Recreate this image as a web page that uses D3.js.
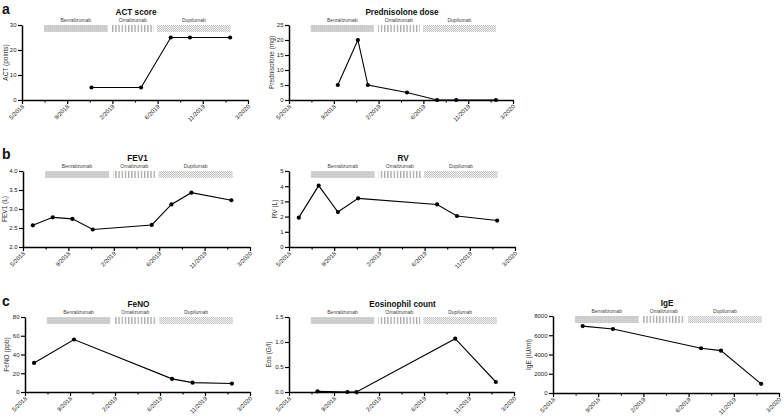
<!DOCTYPE html>
<html><head><meta charset="utf-8">
<script src="https://cdn.jsdelivr.net/npm/d3@7"></script>
<style>body{margin:0;background:#fff} text{font-family:"Liberation Sans",Arial,sans-serif}</style>
</head><body>
<svg id="chart" width="784" height="418"></svg>
<script>
// ---- data ----
const xTickDates = ["2018-05-01","2018-09-12","2019-01-24","2019-06-07","2019-10-19","2020-03-01"];
const xTickLabels = ["5/2018","9/2018","2/2019","6/2019","11/2019","3/2020"];
const xMinorDates = ["2018-07-07","2018-11-18","2019-04-01","2019-08-13","2019-12-25"];

const treatments = ["Benralizumab","Omalizumab","Dupilumab"];
const treatmentStart = ["2018-07-05","2019-01-22","2019-06-05"];
const treatmentEnd = ["2019-01-10","2019-05-27","2020-01-10"];

const actDates = ["2018-11-23","2019-04-19","2019-07-16","2019-09-11","2020-01-08"];
const actValues = [5,5,25,25,25];
const actTicks = [0,10,20,30];

const predDates = ["2018-09-24","2018-11-23","2018-12-23","2019-04-19","2019-07-18","2019-09-13","2020-01-10"];
const predValues = [5,20,5,2.5,0,0,0];
const predTicks = [0,5,10,15,20,25];

const fev1Dates = ["2018-05-30","2018-07-28","2018-09-24","2018-11-23","2019-05-16","2019-07-13","2019-09-10","2020-01-06"];
const fev1Values = [2.57,2.78,2.74,2.46,2.58,3.12,3.43,3.23];
const fev1Ticks = [2.0,2.5,3.0,3.5,4.0];

const rvDates = ["2018-05-30","2018-07-28","2018-09-23","2018-11-22","2019-07-14","2019-09-11","2020-01-08"];
const rvValues = [1.93,4.04,2.30,3.20,2.80,2.04,1.74];
const rvTicks = [0,1,2,3,4,5];

const fenoDates = ["2018-05-28","2018-09-24","2019-07-13","2019-09-12","2020-01-07"];
const fenoValues = [31,56,14,10,9];
const fenoTicks = [0,20,40,60,80];

const eosDates = ["2018-07-25","2018-10-22","2018-11-18","2019-09-08","2020-01-07"];
const eosValues = [0.013,0,0,1.067,0.2];
const eosTicks = [0.0,0.5,1.0,1.5];

const igeDates = ["2018-07-28","2018-10-26","2019-07-14","2019-09-11","2020-01-08"];
const igeValues = [6950,6650,4650,4400,950];
const igeTicks = [0,2000,4000,6000,8000];

// ---- drawing ----
const parse = d3.timeParse("%Y-%m-%d");
const svg = d3.select("#chart");
const defs = svg.append("defs");

// patterns
const pB = defs.append("pattern").attr("id","pBenra").attr("patternUnits","userSpaceOnUse").attr("width",2).attr("height",2);
pB.append("rect").attr("width",2).attr("height",2).attr("fill","#d2d2d2");
pB.append("rect").attr("width",1).attr("height",1).attr("fill","#c2c2c2");
const pO = defs.append("pattern").attr("id","pOmali").attr("patternUnits","userSpaceOnUse").attr("width",3.2).attr("height",4);
pO.append("rect").attr("width",3.2).attr("height",4).attr("fill","#fff");
pO.append("rect").attr("width",1.3).attr("height",4).attr("fill","#a8a8a8");
const pD = defs.append("pattern").attr("id","pDupi").attr("patternUnits","userSpaceOnUse").attr("width",2).attr("height",2);
pD.append("rect").attr("width",2).attr("height",2).attr("fill","#f4f4f4");
pD.append("rect").attr("width",1).attr("height",1).attr("fill","#c4c4c4");
pD.append("rect").attr("x",1).attr("y",1).attr("width",1).attr("height",1).attr("fill","#c4c4c4");
const fills = ["url(#pBenra)","url(#pOmali)","url(#pDupi)"];

const panels = [
  {title:"ACT score", ylab:"ACT (points)", dates:actDates, values:actValues, ticks:actTicks, fmt:d3.format("d"),
   x0:22, x1:248, yTop:25, yBot:100, ylx:6},
  {title:"Prednisolone dose", ylab:"Prednisolone (mg)", dates:predDates, values:predValues, ticks:predTicks, fmt:d3.format("d"),
   x0:289, x1:513, yTop:25, yBot:100, ylx:272},
  {title:"FEV1", ylab:"FEV1 (L)", dates:fev1Dates, values:fev1Values, ticks:fev1Ticks, fmt:d3.format(".1f"),
   x0:23, x1:250, yTop:171, yBot:247, ylx:5},
  {title:"RV", ylab:"RV (L)", dates:rvDates, values:rvValues, ticks:rvTicks, fmt:d3.format("d"),
   x0:289, x1:515, yTop:171, yBot:247, ylx:275},
  {title:"FeNO", ylab:"FeNO (ppb)", dates:fenoDates, values:fenoValues, ticks:fenoTicks, fmt:d3.format("d"),
   x0:25, x1:250, yTop:317, yBot:392, ylx:7},
  {title:"Eosinophil count", ylab:"Eos (G/l)", dates:eosDates, values:eosValues, ticks:eosTicks, fmt:d3.format(".1f"),
   x0:289, x1:514, yTop:317, yBot:392, ylx:269},
  {title:"IgE", ylab:"IgE (IU/ml)", dates:igeDates, values:igeValues, ticks:igeTicks, fmt:d3.format("d"),
   x0:553, x1:779, yTop:316, yBot:393, ylx:529}
];

const domainX = [parse(xTickDates[0]), parse(xTickDates[xTickDates.length-1])];

panels.forEach(p => {
  const g = svg.append("g");
  const x = d3.scaleTime().domain(domainX).range([p.x0, p.x1]);
  const y = d3.scaleLinear().domain([p.ticks[0], p.ticks[p.ticks.length-1]]).range([p.yBot, p.yTop]);

  // treatment bars
  treatments.forEach((t,i) => {
    const xs = x(parse(treatmentStart[i])), xe = x(parse(treatmentEnd[i]));
    g.append("rect").attr("x",xs).attr("y",p.yTop).attr("width",xe-xs).attr("height",7).attr("fill",fills[i]);
    g.append("text").attr("x",(xs+xe)/2).attr("y",p.yTop-3.5).attr("text-anchor","middle")
      .attr("font-size",5).attr("fill","#444").text(t);
  });

  // title
  g.append("text").attr("x",(p.x0+p.x1)/2+1).attr("y",p.yTop-10).attr("text-anchor","middle")
    .attr("font-size",8.2).attr("font-weight","bold").attr("fill","#111").text(p.title);

  // y axis
  const ya = g.append("g").attr("transform",`translate(${p.x0},0)`)
    .call(d3.axisLeft(y).tickValues(p.ticks).tickFormat(p.fmt).tickSize(4).tickSizeOuter(0));
  ya.select(".domain").attr("stroke","#000").attr("stroke-width",1.5);
  ya.selectAll(".tick line").attr("stroke","#000").attr("stroke-width",1.2);
  ya.selectAll(".tick text").attr("font-size",6).attr("font-family","Liberation Sans, Arial, sans-serif").attr("fill","#222").attr("x",-5.5);

  // x minor ticks
  const xm = g.append("g").attr("transform",`translate(0,${p.yBot})`)
    .call(d3.axisBottom(x).tickValues(xMinorDates.map(parse)).tickFormat("").tickSize(2.5).tickSizeOuter(0));
  xm.select(".domain").remove();
  xm.selectAll(".tick line").attr("stroke","#000").attr("stroke-width",1.1);

  // x axis
  const xa = g.append("g").attr("transform",`translate(0,${p.yBot})`)
    .call(d3.axisBottom(x).tickValues(xTickDates.map(parse)).tickFormat((d,i)=>xTickLabels[i]).tickSize(4).tickSizeOuter(0));
  xa.select(".domain").attr("stroke","#000").attr("stroke-width",1.5);
  xa.selectAll(".tick line").attr("stroke","#000").attr("stroke-width",1.2);
  xa.selectAll(".tick text").attr("font-size",6).attr("font-family","Liberation Sans, Arial, sans-serif").attr("fill","#222")
    .attr("text-anchor","end").attr("x",0).attr("y",0).attr("dy",0)
    .attr("transform","translate(2,7) rotate(-45)");

  // y label
  g.append("text").attr("transform",`translate(${p.ylx+2},${(p.yTop+p.yBot)/2}) rotate(-90)`)
    .attr("text-anchor","middle").attr("font-size",6.5).attr("fill","#333").text(p.ylab);

  // data line and points
  const pts = p.dates.map((d,i)=>({d:parse(d), v:p.values[i]}));
  g.append("path").datum(pts).attr("fill","none").attr("stroke","#000").attr("stroke-width",1.1)
    .attr("d", d3.line().x(d=>x(d.d)).y(d=>y(d.v)));
  g.selectAll("circle.pt").data(pts).join("circle").attr("class","pt")
    .attr("cx",d=>x(d.d)).attr("cy",d=>y(d.v)).attr("r",2.1).attr("fill","#000");
});

// panel letters
const letters = ["a","b","c"];
const letterY = [14, 159, 306];
letters.forEach((l,i)=>{
  svg.append("text").attr("x",2).attr("y",letterY[i]).attr("font-size",14).attr("font-weight","bold").attr("fill","#111").text(l);
});
</script>
</body></html>
